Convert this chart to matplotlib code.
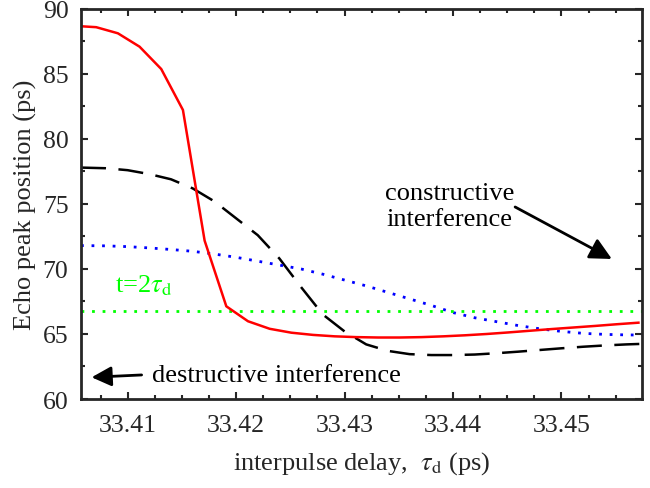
import matplotlib
matplotlib.use("Agg")
import matplotlib.pyplot as plt
from matplotlib.ticker import MultipleLocator

plt.rcParams['font.family'] = ['Liberation Serif', 'DejaVu Serif']
plt.rcParams['mathtext.fontset'] = 'stix'

# Data
red_x = [33.4057, 33.4071, 33.4091, 33.4111, 33.4131, 33.4151, 33.4171, 33.4191, 33.4211,
         33.4231, 33.4251, 33.4271, 33.4291, 33.4311, 33.4331, 33.4351, 33.4371, 33.4391,
         33.4411, 33.4431, 33.4451, 33.4471, 33.4491, 33.4511, 33.4531, 33.4551, 33.4571]
red_y = [88.67, 88.6, 88.13, 87.1, 85.38, 82.23, 72.18, 67.13, 65.98,
         65.4, 65.1, 64.93, 64.82, 64.76, 64.73, 64.73, 64.76, 64.82,
         64.9, 65.0, 65.12, 65.25, 65.38, 65.5, 65.62, 65.75, 65.87]

blk_x = [33.4057, 33.4080, 33.4100, 33.4120, 33.4140, 33.4160, 33.4180, 33.4200, 33.4220,
         33.4240, 33.4260, 33.4280, 33.4300, 33.4320, 33.4340, 33.4360, 33.4380, 33.4400,
         33.4420, 33.4440, 33.4460, 33.4480, 33.4500, 33.4520, 33.4540, 33.4560, 33.4574]
blk_y = [77.8, 77.75, 77.6, 77.3, 76.9, 76.2, 75.2, 73.9, 72.6,
         70.8, 68.6, 66.5, 65.2, 64.2, 63.7, 63.45, 63.38, 63.38,
         63.42, 63.52, 63.64, 63.77, 63.9, 64.02, 64.12, 64.2, 64.24]

blu_x = blk_x
blu_y = [71.8, 71.78, 71.72, 71.62, 71.5, 71.36, 71.15, 70.9, 70.6,
         70.3, 70.0, 69.6, 69.15, 68.7, 68.2, 67.7, 67.2, 66.65,
         66.25, 65.95, 65.65, 65.4, 65.2, 65.05, 64.97, 64.93, 64.92]

green_level = 66.75

x_ticks = [33.41, 33.42, 33.43, 33.44, 33.45]
x_tick_labels = ['33.41', '33.42', '33.43', '33.44', '33.45']
y_ticks = [60, 65, 70, 75, 80, 85, 90]
y_tick_labels = ['60', '65', '70', '75', '80', '85', '90']

fig = plt.figure(figsize=(6.5, 4.89), dpi=100)
ax = fig.add_axes([0.1246, 0.182, 0.8626, 0.7976])

ax.plot(blk_x, blk_y, color='black', lw=1.8, dashes=(10, 5))
ax.plot(blu_x, blu_y, color=(0, 0, 1), lw=2.0, dashes=(1, 2.8))
ax.axhline(green_level, color=(0, 1, 0), lw=2.0, dashes=(1, 2.8))
ax.plot(red_x, red_y, color=(1, 0, 0), lw=1.8)

ax.set_xlim(33.4057, 33.4574)
ax.set_ylim(60, 90)
ax.set_xticks(x_ticks)
ax.set_xticklabels(x_tick_labels)
ax.set_yticks(y_ticks)
ax.set_yticklabels(y_tick_labels)
ax.xaxis.set_minor_locator(MultipleLocator(0.0025))
ax.yaxis.set_minor_locator(MultipleLocator(2.5))
ax.tick_params(which='both', direction='in', top=True, right=True, color='#262626',
               labelsize=18.5, width=1.5)
ax.tick_params(which='major', length=5)
ax.tick_params(axis='x', which='major', pad=11)
ax.tick_params(axis='y', which='major', pad=9)
ax.tick_params(which='minor', length=3)
for s in ax.spines.values():
    s.set_linewidth(2.0)
    s.set_color('#262626')
for lab in ax.get_xticklabels() + ax.get_yticklabels():
    lab.set_color('#262626')

ax.set_xlabel(r'interpulse delay,  $\tau_{\rm d}$ (ps)', fontsize=19, color='#262626', labelpad=9)
ax.set_ylabel('Echo peak position (ps)', fontsize=19, color='#262626', labelpad=4)

ax.text(33.4088, 68.25, r't=2$\tau_{\rm d}$', color=(0, 1, 0), fontsize=19,
        ha='left', va='baseline')

ax.text(33.4397, 74.85, 'constructive\ninterference', fontsize=19, ha='center',
        va='center', linespacing=1.2)
ax.annotate('', xy=(33.45465, 70.77), xytext=(33.44573, 74.77),
            arrowprops=dict(arrowstyle='-|>,head_length=0.6,head_width=0.3', color='black',
                            lw=2, mutation_scale=22, shrinkA=0, shrinkB=0))

ax.text(33.41224, 61.85, 'destructive interference', fontsize=19, ha='left', va='center')
ax.annotate('', xy=(33.40668, 61.67), xytext=(33.41129, 61.85),
            arrowprops=dict(arrowstyle='-|>,head_length=0.6,head_width=0.3', color='black',
                            lw=2, mutation_scale=20, shrinkA=0, shrinkB=0))

fig.savefig('out.png', dpi=100)
